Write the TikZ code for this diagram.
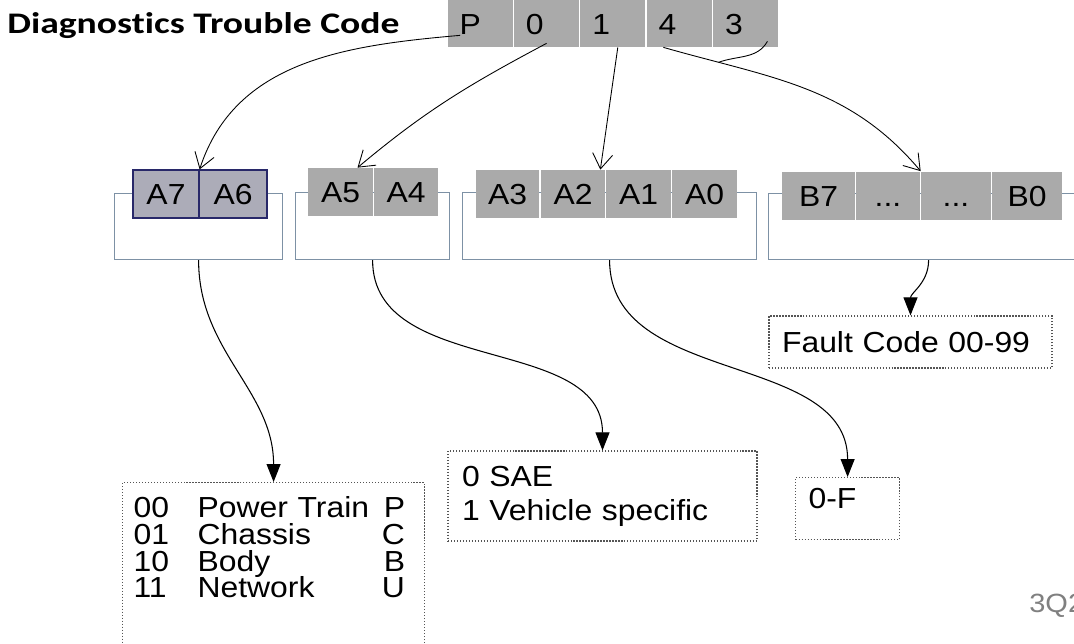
\documentclass[tikz,border=0pt]{standalone}
\usepackage{fontspec}
\setmainfont{Liberation Sans}[FakeStretch=1.1]
\newfontfamily\titlefont{Carlito}[FakeStretch=1.26, Ligatures=NoCommon]
\usepackage{tikz}
\usetikzlibrary{arrows.meta,calc}
\tikzset{>=latex}
\definecolor{cellgray}{RGB}{170,170,170}
\definecolor{selfill}{RGB}{172,172,184}
\definecolor{selborder}{RGB}{40,40,105}
\definecolor{bracketcol}{RGB}{125,145,165}
\definecolor{boxline}{RGB}{85,85,85}
\definecolor{markgray}{RGB}{128,128,128}
\tikzset{
    codecell/.style={fill=cellgray, minimum height=0.94cm, text width=0.82cm, inner xsep=0.24cm, inner ysep=0pt, align=left, text height=12pt, text depth=0pt, font={\fontsize{16.5}{18}\selectfont}},
    bytecell/.style={fill=cellgray, minimum height=0.96cm, inner sep=0pt, text height=12.5pt, text depth=0pt, font={\fontsize{16.5}{18}\selectfont}},
    selcell/.style={bytecell, fill=selfill, draw=selborder, line width=0.7pt},
    bracket/.style={draw=bracketcol, line width=0.7pt, anchor=north west, inner sep=0pt, minimum height=1.32cm},
    infobox/.style={draw=boxline, densely dotted, line width=0.7pt, inner xsep=0.26cm, align=left, font={\fontsize{16.5}{19.3}\selectfont\lineskiplimit=-10pt}},
    pointer/.style={-{Straight Barb[length=0.3cm,width=0.4cm]}, line width=0.5pt},
    result/.style={-{Triangle[length=0.36cm,width=0.28cm]}, line width=0.6pt},
}

\begin{document}
\begin{tikzpicture}[x=0.02cm, y=-0.02cm]
    \useasboundingbox (0,0) rectangle (1074,643);

    \node[anchor=base west, inner sep=0pt, font={\titlefont\bfseries\fontsize{17}{20}\selectfont}] (title) at (7,33) {Diagnostics Trouble Code};

    \foreach \d [count=\i] in {P,0,1,4,3}
        \node[codecell] (c\d) at ({480+66.4*(\i-1)}, 23.5) {\d};

    \node[bracket, minimum width=3.36cm] (g76) at (114,193) {};
    \node[bracket, minimum width=3.08cm, minimum height=1.34cm] (g54) at (295,192) {};
    \node[bracket, minimum width=5.88cm, minimum height=1.34cm] (g30) at (462,192) {};
    \node[bracket, minimum width=6.4cm] (gB) at (768,193) {};

    \node[selcell, minimum width=1.32cm] (a7) at (166,194) {A7};
    \node[selcell, minimum width=1.36cm] (a6) at (233,194) {A6};
    \node[bytecell, minimum width=1.3cm] (a5) at (340.5,192) {A5};
    \node[bytecell, minimum width=1.28cm] (a4) at (406,192) {A4};
    \node[bytecell, minimum width=1.26cm] (a3) at (507.5,194) {A3};
    \node[bytecell, minimum width=1.28cm] (a2) at (573,194) {A2};
    \node[bytecell, minimum width=1.3cm] (a1) at (638.5,194) {A1};
    \node[bytecell, minimum width=1.3cm] (a0) at (704.5,194) {A0};
    \node[bytecell, minimum width=1.46cm] (b7) at (818.5,195.5) {B7};
    \node[bytecell, minimum width=1.28cm] (bx1) at (888,195.5) {...};
    \node[bytecell, minimum width=1.4cm] (bx2) at (956,195.5) {...};
    \node[bytecell, minimum width=1.4cm] (b0) at (1027,195.5) {B0};

    \node[infobox, minimum width=5.66cm, minimum height=1.04cm, text width=5.14cm] (fault) at (910.5,342) {Fault Code 00-99};
    \node[infobox, anchor=north west, inner xsep=0.22cm, inner ysep=0.28cm, text width=5.6cm, text depth=3cm, font={\fontsize{16.5}{15.2}\selectfont\lineskiplimit=-10pt}] (cat) at (122,482)
        {\makebox[1.28cm][l]{00}\makebox[3.7cm][l]{Power Train}\makebox[0.45cm][r]{P}\\
         \makebox[1.28cm][l]{01}\makebox[3.7cm][l]{Chassis}\makebox[0.45cm][r]{C}\\
         \makebox[1.28cm][l]{10}\makebox[3.7cm][l]{Body}\makebox[0.45cm][r]{B}\\
         \makebox[1.28cm][l]{11}\makebox[3.7cm][l]{Network}\makebox[0.45cm][r]{U}};
    \node[infobox, minimum width=6.18cm, minimum height=1.8cm, inner xsep=0.28cm, text width=5.62cm] (sae) at (602.5,496) {0 SAE\\1 Vehicle specific};
    \node[infobox, anchor=north west, inner ysep=0.22cm, text width=1.56cm, text depth=0.4cm] (zerof) at (795,477) {0-F};

    \draw[pointer] ($(cP.south west)+(13,-12)$) to[out=185, in=72] (a7.north east);
    \draw[pointer] ($(c0.south west)+(33,-4)$) to[out=208, in=40] ($(a5.north)+(17,0)$);
    \draw[pointer] ($(c1.south)+(5,0)$) -- ($(a2.north east)+(-5,0)$);
    \draw[pointer] ($(c4.south west)+(17,0)$) to[out=-16, in=130] coordinate[pos=0.18] (merge) (bx2.north west);
    \draw[line width=0.5pt] ($(c3.south east)+(-11,-6)$) to[out=240, in=20] (merge);

    \draw[result] (g76.south) to[out=-90, in=90] (cat.north);
    \draw[result] (g54.south) to[out=-90, in=90] (sae.north);
    \draw[result] (g30.south) to[out=-90, in=90] (zerof.north);
    \draw[result] (gB.south) to[out=-90, in=90] (fault.north);

    \node[anchor=base west, inner sep=0pt, text=markgray, font={\fontsize{15}{18}\selectfont}] (mark) at (1029,612) {3Q2};
\end{tikzpicture}
\end{document}
